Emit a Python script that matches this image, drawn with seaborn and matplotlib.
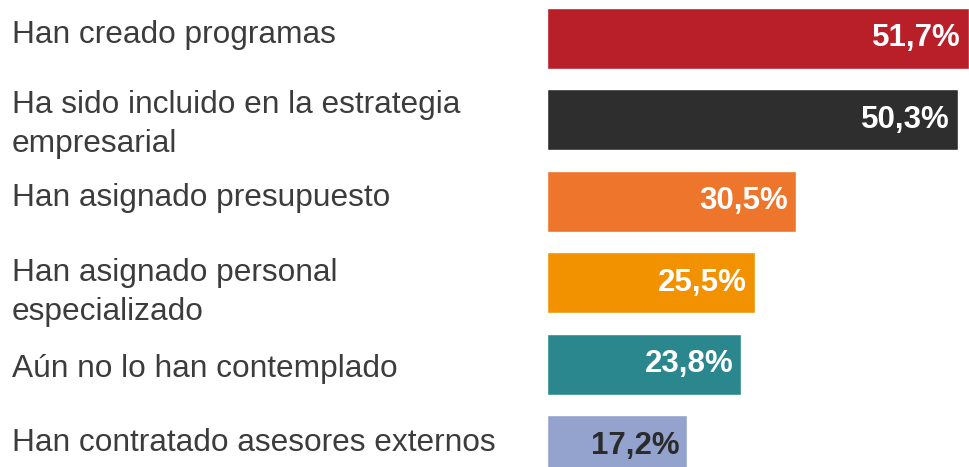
import matplotlib
matplotlib.use("Agg")
import matplotlib.pyplot as plt
import matplotlib.transforms as mtransforms
import seaborn as sns
import pandas as pd

categories = [
    "Han creado programas",
    "Ha sido incluido en la estrategia\nempresarial",
    "Han asignado presupuesto",
    "Han asignado personal\nespecializado",
    "Aún no lo han contemplado",
    "Han contratado asesores externos",
]
values = [51.7, 50.3, 30.5, 25.5, 23.8, 17.2]
value_labels = ["51,7%", "50,3%", "30,5%", "25,5%", "23,8%", "17,2%"]
bar_colors = ["#B91F28", "#2E2E2E", "#EE762C", "#F39200", "#2B878E", "#93A3CE"]
label_colors = ["white", "white", "white", "white", "white", "#2B2B2B"]

df = pd.DataFrame({"cat": categories, "val": values})

sns.set_theme(style="white")
plt.rcParams["font.family"] = ["Liberation Sans", "DejaVu Sans"]

fig = plt.figure(figsize=(9.69, 4.67), dpi=100)
ax = fig.add_axes([547 / 969, 0, 422 / 969, 1])

sns.barplot(data=df, x="val", y="cat", hue="cat", palette=bar_colors,
            legend=False, width=0.75, orient="h", ax=ax, saturation=1)

ax.set_xlim(0, 51.7)
ax.set_ylim(5.26, -0.47)
ax.set_xlabel("")
ax.set_ylabel("")
ax.set_xticks([])
ax.set_yticks([])
sns.despine(ax=ax, left=True, bottom=True)

# category labels at the left of the figure (small nudges to follow the original)
label_nudge = [-0.04, 0.06, -0.04, 0.12, 0.06, -0.04]
trans = mtransforms.blended_transform_factory(fig.transFigure, ax.transData)
for i, cat in enumerate(categories):
    ax.text(12 / 969, i + label_nudge[i], cat, transform=trans, ha="left", va="center",
            fontsize=22.8, color="#3C3C3C", linespacing=1.4, clip_on=False)

# value labels inside bars
offset = mtransforms.offset_copy(ax.transData, fig=fig, x=-8, y=0, units="dots")
for i, (v, lab) in enumerate(zip(values, value_labels)):
    ax.text(v, i, lab, transform=offset, ha="right", va="center",
            fontsize=22.5, fontweight="bold", color=label_colors[i])

fig.savefig("out.png", dpi=100)
